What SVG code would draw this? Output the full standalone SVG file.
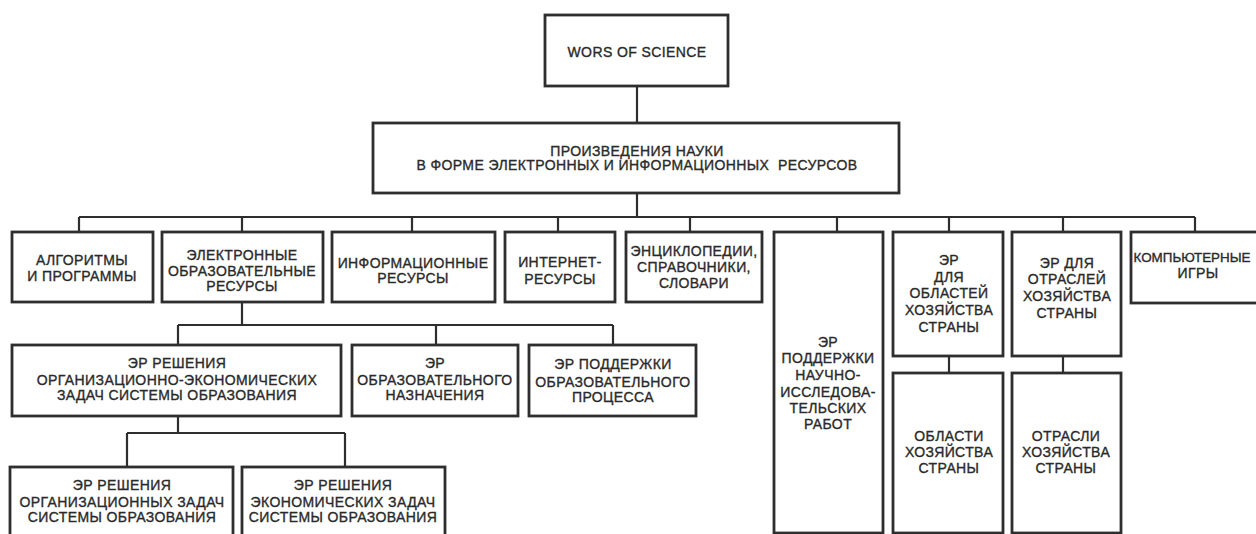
<svg xmlns="http://www.w3.org/2000/svg" width="1256" height="534" viewBox="0 0 1256 534">
<style>
.box{fill:#fff;stroke:#2e2e2e;stroke-width:2.8}
.ln{fill:none;stroke:#2e2e2e;stroke-width:2.2}
text{font-family:"Liberation Sans",Arial,sans-serif;font-size:14px;letter-spacing:0.4px;fill:#2a2a2a;stroke:#2a2a2a;stroke-width:0.35;text-anchor:middle}
.tight{letter-spacing:0;font-size:13.4px}
</style>
<rect width="1256" height="534" fill="#fff"/>
<g id="connectors">
<path class="ln" d="M637 86V123M637 193V217M79 217H1195M79 217V232M242 217V232M412 217V232M558 217V232M690 217V232M837 217V232M949 217V232M1063 217V232M1195 217V232"/>
<path class="ln" d="M242 302V325M178 325H613M178 325V345M436 325V345M613 325V345"/>
<path class="ln" d="M178 416V433M127 433H345M127 433V467M345 433V467"/>
<path class="ln" d="M949 356V373M1063 356V373"/>
</g>
<g id="n0"><rect class="box" x="545" y="15" width="183" height="71"/><text x="637" y="57">WORS OF SCIENCE</text></g>
<g id="n1"><rect class="box" x="373" y="123" width="526" height="70"/><text x="637" y="156">ПРОИЗВЕДЕНИЯ НАУКИ</text><text x="637" y="170" xml:space="preserve">В ФОРМЕ ЭЛЕКТРОННЫХ И ИНФОРМАЦИОННЫХ  РЕСУРСОВ</text></g>
<g id="a"><rect class="box" x="12" y="232" width="141" height="70"/><text x="82" y="265">АЛГОРИТМЫ</text><text x="82" y="281">И ПРОГРАММЫ</text></g>
<g id="b"><rect class="box" x="162" y="232" width="161" height="70"/><text x="242" y="260">ЭЛЕКТРОННЫЕ</text><text x="242" y="276">ОБРАЗОВАТЕЛЬНЫЕ</text><text x="242" y="291">РЕСУРСЫ</text></g>
<g id="c"><rect class="box" x="332" y="232" width="163" height="70"/><text x="413" y="268">ИНФОРМАЦИОННЫЕ</text><text x="413" y="283">РЕСУРСЫ</text></g>
<g id="d"><rect class="box" x="505" y="232" width="110" height="70"/><text x="560" y="267">ИНТЕРНЕТ-</text><text x="560" y="284">РЕСУРСЫ</text></g>
<g id="e"><rect class="box" x="626" y="232" width="136" height="70"/><text x="694" y="256">ЭНЦИКЛОПЕДИИ,</text><text x="694" y="272">СПРАВОЧНИКИ,</text><text x="694" y="288">СЛОВАРИ</text></g>
<g id="f"><rect class="box" x="774" y="232" width="109" height="301"/><text x="828" y="347">ЭР</text><text x="828" y="363">ПОДДЕРЖКИ</text><text x="828" y="380">НАУЧНО-</text><text x="828" y="397">ИССЛЕДОВА-</text><text x="828" y="413">ТЕЛЬСКИХ</text><text x="828" y="429">РАБОТ</text></g>
<g id="g"><rect class="box" x="893" y="232" width="110" height="124"/><text x="949" y="265">ЭР</text><text x="949" y="282">ДЛЯ</text><text x="949" y="298">ОБЛАСТЕЙ</text><text x="949" y="315">ХОЗЯЙСТВА</text><text x="949" y="332">СТРАНЫ</text></g>
<g id="g2"><rect class="box" x="893" y="373" width="110" height="160"/><text x="949" y="441">ОБЛАСТИ</text><text x="949" y="457">ХОЗЯЙСТВА</text><text x="949" y="473">СТРАНЫ</text></g>
<g id="h"><rect class="box" x="1012" y="232" width="109" height="124"/><text x="1067" y="268">ЭР ДЛЯ</text><text x="1067" y="284">ОТРАСЛЕЙ</text><text x="1067" y="301">ХОЗЯЙСТВА</text><text x="1067" y="318">СТРАНЫ</text></g>
<g id="h2"><rect class="box" x="1012" y="373" width="109" height="160"/><text x="1066" y="441">ОТРАСЛИ</text><text x="1066" y="457">ХОЗЯЙСТВА</text><text x="1066" y="473">СТРАНЫ</text></g>
<g id="i"><rect class="box" x="1131" y="232" width="140" height="71"/><text class="tight" x="1192" y="262">КОМПЬЮТЕРНЫЕ</text><text x="1198" y="278">ИГРЫ</text></g>
<g id="j"><rect class="box" x="12" y="345" width="329" height="71"/><text x="177" y="368">ЭР РЕШЕНИЯ</text><text x="177" y="385">ОРГАНИЗАЦИОННО-ЭКОНОМИЧЕСКИХ</text><text x="177" y="400">ЗАДАЧ СИСТЕМЫ ОБРАЗОВАНИЯ</text></g>
<g id="k"><rect class="box" x="352" y="345" width="166" height="71"/><text x="435" y="368">ЭР</text><text x="435" y="385">ОБРАЗОВАТЕЛЬНОГО</text><text x="435" y="400">НАЗНАЧЕНИЯ</text></g>
<g id="l"><rect class="box" x="529" y="345" width="167" height="71"/><text x="613" y="369">ЭР ПОДДЕРЖКИ</text><text x="613" y="387">ОБРАЗОВАТЕЛЬНОГО</text><text x="613" y="402">ПРОЦЕССА</text></g>
<g id="m"><rect class="box" x="10" y="467" width="223" height="75"/><text x="122" y="490">ЭР РЕШЕНИЯ</text><text x="122" y="507">ОРГАНИЗАЦИОННЫХ ЗАДАЧ</text><text x="122" y="522">СИСТЕМЫ ОБРАЗОВАНИЯ</text></g>
<g id="n"><rect class="box" x="242" y="467" width="203" height="75"/><text x="343" y="490">ЭР РЕШЕНИЯ</text><text x="343" y="507">ЭКОНОМИЧЕСКИХ ЗАДАЧ</text><text x="343" y="522">СИСТЕМЫ ОБРАЗОВАНИЯ</text></g>
</svg>
